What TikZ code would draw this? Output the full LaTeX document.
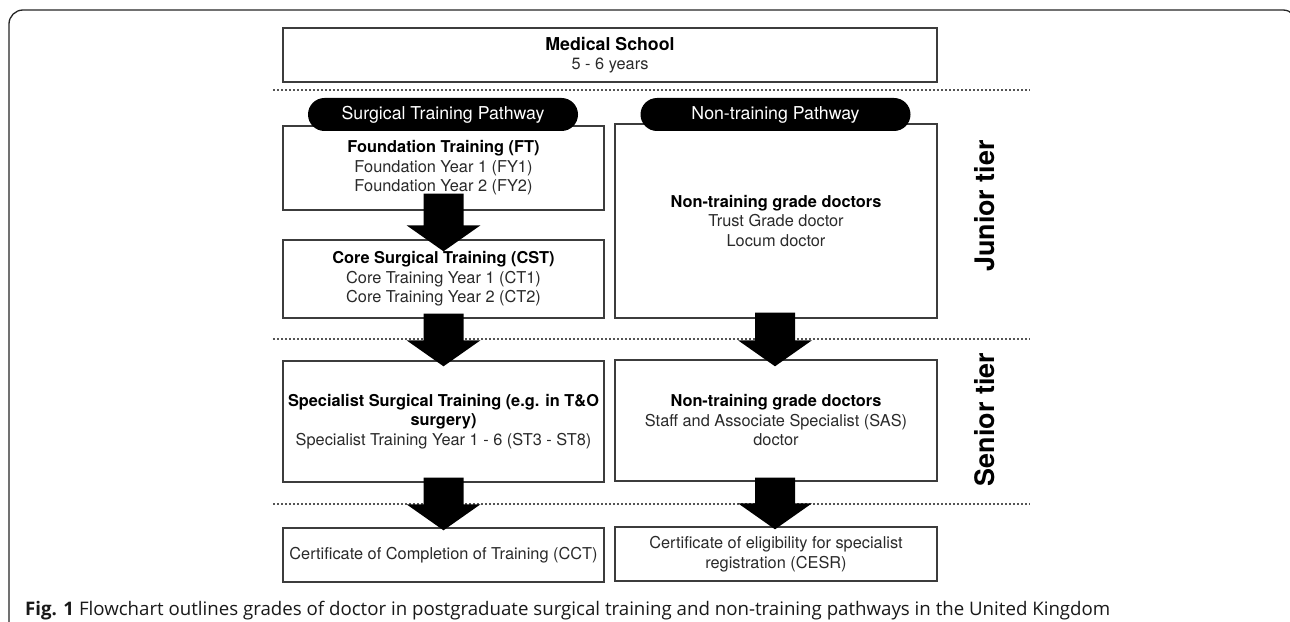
\documentclass[tikz,border=0pt]{standalone}
\usepackage{fontspec}
\setmainfont{TeX Gyre Heros}
\newfontfamily\capfont{Open Sans}
\usetikzlibrary{calc}
\definecolor{boxgray}{HTML}{3C3C3C}
\definecolor{dotgray}{HTML}{555555}
\definecolor{txtgray}{HTML}{2A2A2A}
\newcommand\myreg{\fontsize{16.4}{19.6}\selectfont}
\newcommand\mypill{\fontsize{17.8}{20}\selectfont}
\newcommand\mytier{\fontsize{27}{30}\selectfont\bfseries}
\newcommand\hd[1]{{\color{black}\bfseries #1}}
\newcommand\blockarrow[2]{%
  \fill let \p1=(#1), \p2=(#2) in
    (\x1-20bp,\y1) -- (\x1+20bp,\y1) -- (\x1+20bp,\y2+26bp) -- (\x1+37bp,\y2+26bp)
    -- (\x2,\y2) -- (\x1-37bp,\y2+26bp) -- (\x1-20bp,\y2+26bp) -- cycle;}
\begin{document}
\begin{tikzpicture}[x=1bp,y=-1bp,
  box/.style={draw=boxgray, line width=1.4bp, align=center, inner sep=0pt,
              font=\myreg, text=txtgray},
  pill/.style={fill=black, rounded corners=16.5bp, minimum width=270bp,
               minimum height=33bp, inner sep=0pt, text=white, font=\mypill},
  sep/.style={draw=dotgray, line width=1.6bp, dash pattern=on 1.6bp off 2.4bp},
  tier/.style={rotate=90, font=\mytier, inner sep=0pt},
]
\useasboundingbox (0,0) rectangle (1290,622);
\fill[white] (0,0) rectangle (1290,622);
% outer frame
\draw[line width=1.3bp, black!85, rounded corners=14bp]
  (9,660) -- (9,10) -- (1297,10) -- (1297,660);

% separators
\coordinate (s1a) at (273,90);   \coordinate (s1b) at (1030,90);
\coordinate (s2a) at (273,339);  \coordinate (s2b) at (1030,339);
\coordinate (s3a) at (273,504);  \coordinate (s3b) at (1030,504);
\draw[sep] (s1a) -- (s1b);
\draw[sep] (s2a) -- (s2b);
\draw[sep] (s3a) -- (s3b);

% boxes
\node[box, minimum width=654bp, minimum height=54bp] (med) at (610,55)
  {{\fontsize{17.8}{20}\selectfont\hd{Medical School}}\\5 - 6 years};
\node[box, minimum width=321bp, minimum height=84bp] (ft) at (443.5,168)
  {\hd{Foundation Training (FT)}\\Foundation Year 1 (FY1)\\Foundation Year 2 (FY2)};
\node[box, minimum width=321bp, minimum height=78bp] (cst) at (443.5,279)
  {\hd{Core Surgical Training (CST)}\\Core Training Year 1 (CT1)\\Core Training Year 2 (CT2)};
\node[box, minimum width=322bp, minimum height=194bp] (ntj) at (776,221)
  {\hd{Non-training grade doctors}\\Trust Grade doctor\\Locum doctor};
\node[box, minimum width=321bp, minimum height=121bp] (sst) at (443.5,421.5)
  {\hd{Specialist Surgical Training (e.g. in T\&O}\\\hd{surgery)}\\Specialist Training Year 1 - 6 (ST3 - ST8)};
\node[box, minimum width=322bp, minimum height=121bp] (sas) at (776,420.5)
  {\hd{Non-training grade doctors}\\Staff and Associate Specialist (SAS)\\doctor};
\node[box, minimum width=321bp, minimum height=54bp] (cct) at (443.5,555)
  {Certificate of Completion of Training (CCT)};
\node[box, minimum width=322bp, minimum height=54bp] (cesr) at (776,554)
  {Certificate of eligibility for specialist\\registration (CESR)};

% pathway pills
\node[pill] (p1) at (443,114.5) {Surgical Training Pathway};
\node[pill] (p2) at (775.5,114.5) {Non-training Pathway};

% tier labels
\node[tier] (jt) at (985,206) {Junior tier};
\node[tier] (st) at (985,419.5) {Senior tier};

% block arrows
\blockarrow{$(ft.south)+(0,-17)$}{$(cst.north)+(0,12)$}
\blockarrow{$(cst.south)+(0,-5)$}{$(sst.north)+(0,6)$}
\blockarrow{$(sst.south)+(0,-5)$}{$(cct.north)+(0,3)$}
\blockarrow{$(ntj.south)+(-1,-6)$}{$(sas.north)+(-1,7)$}
\blockarrow{$(sas.south)+(-1,-4)$}{$(cesr.north)+(-1,3)$}

% caption
\node[anchor=base west, inner sep=0pt, text=black!90] (cap) at (25,615)
  {\resizebox{1085bp}{!}{\capfont\textbf{Fig. 1} Flowchart outlines grades of doctor in postgraduate surgical training and non-training pathways in the United Kingdom}};
\end{tikzpicture}
\end{document}
